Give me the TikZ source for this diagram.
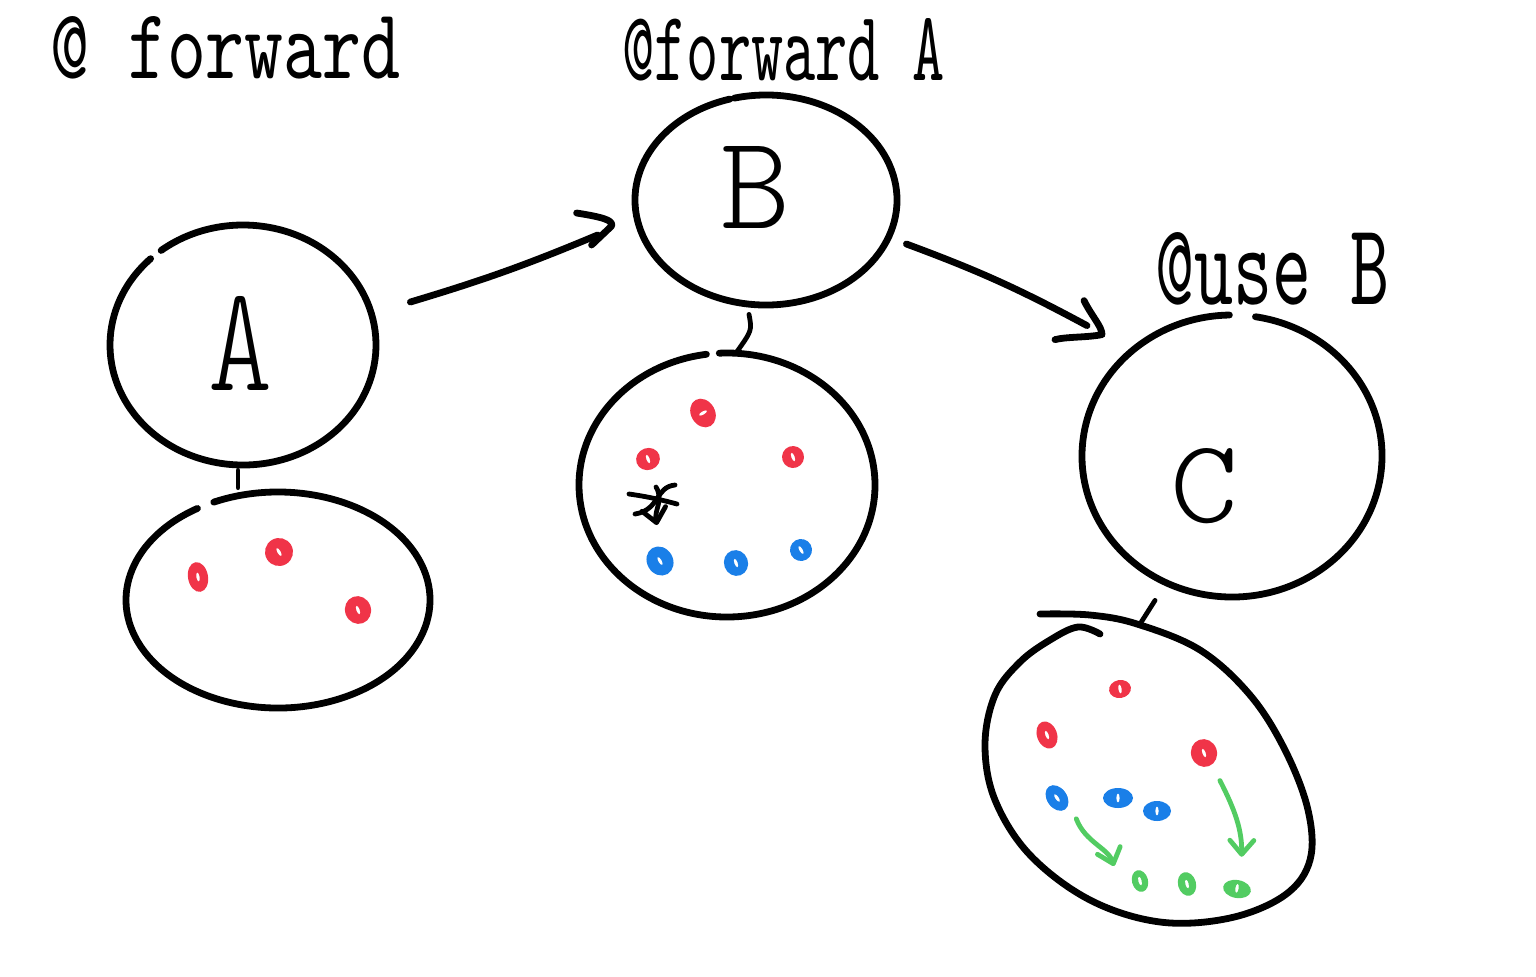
\documentclass[tikz,border=0pt]{standalone}
\usetikzlibrary{arrows.meta,shapes.geometric,calc}
\definecolor{sred}{RGB}{240,52,72}
\definecolor{sblue}{RGB}{26,127,232}
\definecolor{sgreen}{RGB}{82,204,98}
\newcommand\sktext[3]{\resizebox{#1}{#2}{\ttfamily #3}}
\newcommand\sklight[3]{\resizebox{#1}{#2}{\ttfamily\fontseries{l}\selectfont #3}}
\newcommand\skarc[5]{\draw[sk] ([shift={(#2:#4 and #5)}]#1.center) arc[start angle=#2, end angle=#3, x radius=#4, y radius=#5];}
\begin{document}
\begin{tikzpicture}[x=0.5pt,y=-0.5pt,
  sk/.style={line width=3.4pt,line cap=round,line join=round},
  thinsk/.style={line width=2.4pt,line cap=round,line join=round},
  blob/.style={ellipse,draw=none,inner sep=0pt},
  smalltip/.style={-{Straight Barb[length=7pt,width=12pt,line cap=round,line join=round]}},
  dot/.style={ellipse,inner sep=0pt,fill=#1,
    path picture={\fill[white] (path picture bounding box.center) ellipse[x radius=0.8pt,y radius=2.2pt];}},
  lbl/.style={inner sep=0pt}]
\useasboundingbox (0,0) rectangle (1536,976);
\fill[white] (0,0) rectangle (1536,976);

% headings
\node[lbl,anchor=base west] (h1) at (50,78) {\sktext{175pt}{31pt}{@ forward}};
\node[lbl,anchor=base west] (h2) at (622,80) {\sktext{161pt}{31pt}{@forward A}};
\node[lbl,anchor=base west] (h3) at (1155,304) {\sktext{117pt}{36pt}{@use B}};

% main circles
\node[blob,minimum width=133pt,minimum height=120pt] (A) at (243,345) {};
\node[blob,minimum width=131pt,minimum height=105pt] (B) at (766,200) {};
\node[blob,minimum width=150pt,minimum height=141pt] (C) at (1232,456) {};
\skarc{A}{232}{586}{133}{120}
\skarc{B}{256}{614}{131}{105}
\skarc{C}{279}{629}{150}{141}

\node[lbl,anchor=base] (tA) at (240,390) {\sklight{32pt}{47pt}{A}};
\node[lbl,anchor=base] (tB) at (755,228) {\sklight{35pt}{41pt}{B}};
\node[lbl,anchor=base] (tC) at (1204,522) {\sklight{34pt}{37pt}{C}};

% sets
\node[blob,minimum width=152pt,minimum height=108pt] (Aset) at (278,600) {};
\node[blob,minimum width=148pt,minimum height=132pt] (Bset) at (727,485) {};
\node[blob,minimum width=164pt,minimum height=155pt] (Cset) at (1150,767) {};
\skarc{Aset}{245}{598}{152}{108}
\skarc{Bset}{267}{622}{148}{132}
\draw[sk] plot[smooth,tension=0.6] coordinates {(1040,614) (1090,615) (1137,624) (1200,650) (1250,695) (1285,750) (1308,810) (1310,860) (1285,895) (1230,918) (1160,922) (1090,900) (1030,855) (995,800) (985,745) (995,695) (1020,662) (1050,640) (1078,627) (1100,634)};

% connectors circle -> set
\draw[thinsk] ($(A.south)+(-5,5)$) -- ($(Aset.north)+(-40,-4)$);
\draw[thinsk] ($(B.south)+(-17,9)$) .. controls ($(B.south)+(-14,25)$) .. ($(Bset.north)+(10,-1)$);
\draw[thinsk] ($(C.south)+(-77,3)$) -- ($(Cset.north)+(-11,14)$);

% arrows between circles (hand-drawn heads)
\coordinate (hAB) at ($(B.west)+(-23,26)$);
\draw[sk] ($(A.east)+(34,-43)$) to[bend right=3] ($(hAB)+(-14,9)$);
\draw[sk] ($(hAB)+(-35,-13)$) .. controls ($(hAB)+(-10,-9)$) and ($(hAB)+(2,-6)$) .. (hAB) -- ($(hAB)+(-20,19)$);
\coordinate (hBC) at ($(C.north)+(-130,20)$);
\draw[sk] ($(B.east)+(9,44)$) to[bend left=4] ($(hBC)+(-15,-9)$);
\draw[sk] ($(hBC)+(-18,-34)$) .. controls ($(hBC)+(-10,-18)$) and ($(hBC)+(0,-8)$) .. (hBC) .. controls ($(hBC)+(-15,3)$) and ($(hBC)+(-35,2)$) .. ($(hBC)+(-47,5)$);

% dots in A set
\node[dot=sred,minimum width=10pt,minimum height=15pt,rotate=10] (ra1) at (198,577) {};
\node[dot=sred,minimum width=14pt,minimum height=14pt,rotate=30] (ra2) at (279,552) {};
\node[dot=sred,minimum width=13pt,minimum height=14pt,rotate=20] (ra3) at (358,610) {};

% dots in B set
\node[dot=sred,minimum width=15pt,minimum height=12pt,rotate=-60] (rb1) at (703,413) {};
\node[dot=sred,minimum width=12pt,minimum height=11pt,rotate=20] (rb2) at (648,459) {};
\node[dot=sred,minimum width=11pt,minimum height=11pt,rotate=20] (rb3) at (793,457) {};
\node[dot=sblue,minimum width=13pt,minimum height=15pt,rotate=30] (bb1) at (660,561) {};
\node[dot=sblue,minimum width=12pt,minimum height=13pt,rotate=20] (bb2) at (736,563) {};
\node[dot=sblue,minimum width=11pt,minimum height=11pt,rotate=30] (bb3) at (801,550) {};

% asterisk with arrow
\coordinate (s1) at (629,494);
\coordinate (s2) at (677,504);
\coordinate (s3) at (635,514);
\coordinate (s4) at (675,485);
\coordinate (s5) at (656,487);
\coordinate (s6) at (657,525);
\draw[thinsk] (s1) .. controls (650,497) and (662,500) .. (s2);
\draw[thinsk] (s3) .. controls (660,510) and (655,487) .. (s4);
\draw[thinsk,smalltip] (s5) .. controls (664,500) and (654,510) .. (s6);

% dots in C set
\node[dot=sred,minimum width=11pt,minimum height=9pt,rotate=10] (rc1) at (1120,689) {};
\node[dot=sred,minimum width=10pt,minimum height=14pt,rotate=20] (rc2) at (1047,735) {};
\node[dot=sred,minimum width=13pt,minimum height=14pt,rotate=20] (rc3) at (1204,753) {};
\node[dot=sblue,minimum width=10pt,minimum height=14pt,rotate=35] (bc1) at (1057,798) {};
\node[dot=sblue,minimum width=15pt,minimum height=10pt,rotate=0] (bc2) at (1118,798) {};
\node[dot=sblue,minimum width=14pt,minimum height=10pt,rotate=0] (bc3) at (1157,811) {};
\node[dot=sgreen,minimum width=8pt,minimum height=11pt,rotate=15] (gc1) at (1140,881) {};
\node[dot=sgreen,minimum width=9pt,minimum height=12pt,rotate=15] (gc2) at (1187,884) {};
\node[dot=sgreen,minimum width=14pt,minimum height=9pt,rotate=-10] (gc3) at (1237,889) {};

% green arrows
\draw[thinsk,sgreen,smalltip] ($(bc1.south)+(11,9)$) .. controls (1085,842) and (1108,848) .. ($(gc1.north)+(-23,-4)$);
\draw[thinsk,sgreen,smalltip] ($(rc3.south)+(11,14)$) .. controls (1235,810) and (1242,830) .. ($(gc3.north)+(3,-23)$);
\end{tikzpicture}
\end{document}
